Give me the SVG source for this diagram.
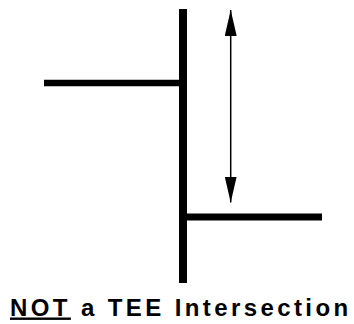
<svg xmlns="http://www.w3.org/2000/svg" width="354" height="324" viewBox="0 0 354 324">
<style>
.road{stroke:#000;fill:none;stroke-linecap:butt}
.dim{stroke:#000;stroke-width:1.5;fill:none}
.lbl{font-family:"Liberation Sans",Arial,sans-serif;font-weight:bold;font-size:24px;letter-spacing:3.4px;fill:#000}
</style>
<defs>
<marker id="ah" viewBox="0 0 26 12" refX="26" refY="6" markerWidth="26" markerHeight="12" markerUnits="userSpaceOnUse" orient="auto-start-reverse">
<path d="M0,0 L26,6 L0,12 Z" fill="#000"/>
</marker>
</defs>
<g id="vertical-road"><line class="road" x1="183" y1="9" x2="183" y2="283" stroke-width="8"/></g>
<g id="left-road"><line class="road" x1="44" y1="83" x2="183" y2="83" stroke-width="6.5"/></g>
<g id="right-road"><line class="road" x1="183" y1="217" x2="322" y2="217" stroke-width="7"/></g>
<g id="connectors"><line class="dim" x1="230.7" y1="10" x2="230.7" y2="202.5" marker-start="url(#ah)" marker-end="url(#ah)"/></g>
<g id="label"><text class="lbl" x="10" y="315.5"><tspan text-decoration="underline">NOT</tspan> a TEE Intersection</text></g>
</svg>
